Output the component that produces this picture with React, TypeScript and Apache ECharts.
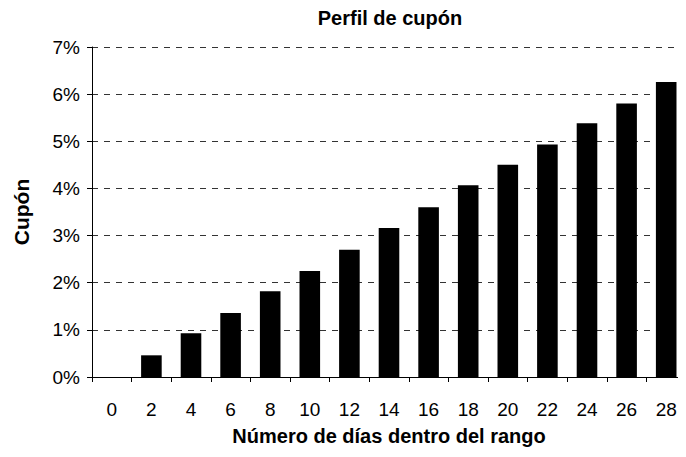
import React, { useEffect, useRef } from "react";
import * as echarts from "echarts";

const categories = ["0", "2", "4", "6", "8", "10", "12", "14", "16", "18", "20", "22", "24", "26", "28"];
const cupon = [0, 0.46, 0.93, 1.36, 1.82, 2.25, 2.7, 3.16, 3.6, 4.07, 4.5, 4.93, 5.38, 5.8, 6.26];
const yTicks = [0, 1, 2, 3, 4, 5, 6, 7];

const FONT = "'Liberation Sans', Arial, sans-serif";

export default function App() {
  const ref = useRef<HTMLDivElement>(null);
  useEffect(() => {
    if (!ref.current) return;
    const chart = echarts.init(ref.current, undefined, { renderer: "svg" });
    chart.setOption({
      animation: false,
      backgroundColor: "#ffffff",
      title: {
        text: "Perfil de cupón",
        left: 385,
        textAlign: "center",
        top: 3,
        textStyle: { fontFamily: FONT, fontSize: 20, fontWeight: "bold", color: "#000" },
      },
      grid: { left: 92, right: 0, top: 47, bottom: 80, containLabel: false },
      xAxis: {
        type: "category",
        data: categories,
        name: "Número de días dentro del rango",
        nameLocation: "middle",
        nameGap: 49,
        nameTextStyle: { fontFamily: FONT, fontSize: 20, fontWeight: "bold", color: "#000" },
        axisLine: { lineStyle: { color: "#000", width: 1 } },
        axisTick: { show: true, alignWithLabel: false, length: 5, lineStyle: { color: "#000" } },
        axisLabel: { fontFamily: FONT, fontSize: 19, color: "#000", margin: 23, interval: 0 },
      },
      yAxis: {
        type: "value",
        min: 0,
        max: 7,
        interval: 1,
        name: "Cupón",
        nameLocation: "middle",
        nameGap: 60,
        nameRotate: 90,
        nameTextStyle: { fontFamily: FONT, fontSize: 21, fontWeight: "bold", color: "#000" },
        axisLine: { show: true, lineStyle: { color: "#000", width: 1 } },
        axisTick: { show: true, length: 5, lineStyle: { color: "#000" } },
        axisLabel: {
          fontFamily: FONT,
          fontSize: 19,
          color: "#000",
          margin: 12,
          formatter: (v: number) => (yTicks.includes(v) ? v + "%" : ""),
        },
        splitLine: { show: true, lineStyle: { color: "#333", type: [6, 6], width: 1 } },
      },
      series: [
        {
          type: "bar",
          data: cupon,
          barWidth: "52%",
          itemStyle: { color: "#000" },
        },
      ],
    });
    return () => chart.dispose();
  }, []);
  return <div ref={ref} style={{ width: 686, height: 457, margin: -8 }} />;
}
